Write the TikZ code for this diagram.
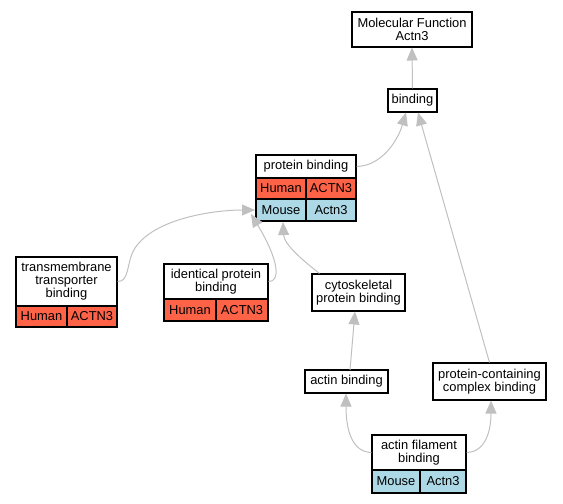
\documentclass[tikz,border=0pt]{standalone}
\usepackage{fontspec}
\setmainfont{Liberation Sans}
\usetikzlibrary{arrows.meta}
\definecolor{hum}{RGB}{255,99,71}
\definecolor{mou}{RGB}{173,216,230}
\definecolor{edgegray}{RGB}{192,192,192}
\begin{document}
\begin{tikzpicture}[x=1pt,y=-1pt,
  box/.style={draw, line width=1.1pt, inner sep=0pt, align=center, fill=white,
    font=\fontsize{12.9}{13}\selectfont},
  hcell/.style={box, fill=hum},
  mcell/.style={box, fill=mou},
  link/.style={draw=edgegray, line width=1pt, -{Triangle[length=13pt,width=11pt]}}]
\useasboundingbox (0,0) rectangle (563,504);
% Molecular Function
\node[box, minimum width=120pt, minimum height=35pt] (mf) at (412,29.5) {Molecular Function\\Actn3};
\node[box, minimum width=49pt, minimum height=23pt] (bind) at (412.5,100.5) {binding};
% protein binding
\node[box, minimum width=100pt, minimum height=23pt] (pb) at (306,166.5) {protein binding};
\node[hcell, minimum width=50pt, minimum height=21pt] (pbh1) at (281,188.5) {Human};
\node[hcell, minimum width=50pt, minimum height=21pt] (pbh2) at (331,188.5) {ACTN3};
\node[mcell, minimum width=50pt, minimum height=22pt] (pbm1) at (281,210) {Mouse};
\node[mcell, minimum width=50pt, minimum height=22pt] (pbm2) at (331,210) {Actn3};
% transmembrane transporter binding
\node[box, minimum width=101pt, minimum height=49pt] (tm) at (66.5,281.5) {transmembrane\\transporter\\binding};
\node[hcell, minimum width=51pt, minimum height=21pt] (tmh1) at (41.5,316.5) {Human};
\node[hcell, minimum width=50pt, minimum height=21pt] (tmh2) at (92,316.5) {ACTN3};
% identical protein binding
\node[box, minimum width=104pt, minimum height=35pt] (ip) at (216,281.5) {identical protein\\binding};
\node[hcell, minimum width=52pt, minimum height=22pt] (iph1) at (190,310) {Human};
\node[hcell, minimum width=52pt, minimum height=22pt] (iph2) at (242,310) {ACTN3};
% cytoskeletal protein binding
\node[box, minimum width=93pt, minimum height=37pt] (cy) at (358.5,292.5) {cytoskeletal\\protein binding};
% actin binding
\node[box, minimum width=83pt, minimum height=23pt] (ab) at (346.5,381.5) {actin binding};
% protein-containing complex binding
\node[box, minimum width=113pt, minimum height=37pt] (pc) at (489.5,381.5) {protein-containing\\complex binding};
% actin filament binding
\node[box, minimum width=94pt, minimum height=35pt] (af) at (419,452.5) {actin filament\\binding};
\node[mcell, minimum width=48pt, minimum height=23pt] (afm1) at (396,481.5) {Mouse};
\node[mcell, minimum width=46pt, minimum height=23pt] (afm2) at (443,481.5) {Actn3};
% edges
\coordinate (mfin) at (412,47.5);
\coordinate (bindinL) at (406,112.5);
\coordinate (bindinR) at (418,112.5);
\coordinate (pbinA) at (255,210);
\coordinate (pbinB) at (251,214);
\coordinate (pbinC) at (283,222);
\coordinate (cyin) at (355,311.5);
\coordinate (abin) at (346,393.5);
\coordinate (pcin) at (491,400.5);
\path[link] (bind.north) -- (mfin);
\path[link] (pb.east) .. controls (382,166) and (398,140) .. (bindinL);
\path[link] (pc.north) -- (bindinR);
\path[link] (tm.east) .. controls (130,282) and (126,262) .. (135,248) .. controls (155,218) and (215,210) .. (pbinA);
\path[link] (ip.east) .. controls (280,282) and (280,262) .. (pbinB);
\path[link] (cy.north west) ++(8,0) .. controls (305,262) and (284,245) .. (pbinC);
\path[link] (350,370) -- (cyin);
\path[link] (af.west) .. controls (352,452) and (346,430) .. (abin);
\path[link] (af.east) .. controls (486,452) and (491,430) .. (pcin);
\end{tikzpicture}
\end{document}
